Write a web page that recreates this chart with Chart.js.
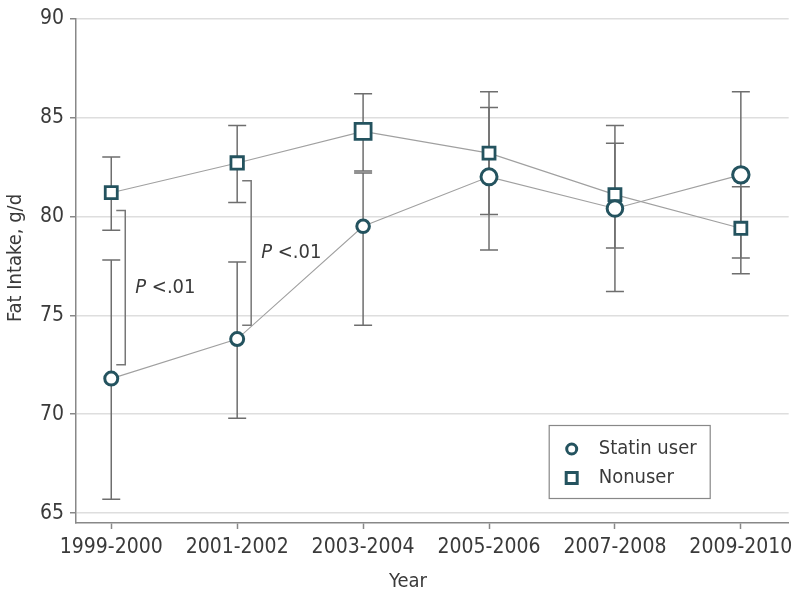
<!DOCTYPE html>
<html>
<head>
<meta charset="utf-8">
<script src="https://cdn.jsdelivr.net/npm/chart.js@4.4.1/dist/chart.umd.min.js"></script>
<style>
  html, body { margin: 0; padding: 0; background: #fff; }
</style>
</head>
<body>
<canvas id="c" width="800" height="598"></canvas>
<script>
const years = ["1999-2000", "2001-2002", "2003-2004", "2005-2006", "2007-2008", "2009-2010"];
const yTicks = [65, 70, 75, 80, 85, 90];

// means and error bar ends (g/d)
const statin = [71.8, 73.8, 79.5, 82.0, 80.4, 82.1];
const statinLo = [65.7, 69.8, 74.5, 78.3, 76.2, 77.9];
const statinHi = [77.8, 77.7, 82.2, 85.5, 84.6, 86.3];
const nonuser = [81.2, 82.7, 84.3, 83.2, 81.1, 79.4];
const nonuserLo = [79.3, 80.7, 82.3, 80.1, 78.4, 77.1];
const nonuserHi = [83.0, 84.6, 86.2, 86.3, 83.7, 81.5];

// P-value brackets: category index, from, to
const pBrackets = [
    { at: 0, from: 72.5, to: 80.3, label: "<.01" },
    { at: 1, from: 74.5, to: 81.8, label: "<.01" },
];

const FONT = "'Liberation Sans Narrow', 'DejaVu Sans Condensed', 'Liberation Sans', sans-serif";
const teal = "#24535f";
const textCol = "#3a3a3a";

const errorBars = {
    id: "errorBars",
    beforeDatasetsDraw(chart) {
        const { ctx, scales: { x, y } } = chart;
        ctx.save();
        ctx.strokeStyle = "#6e6e6e";
        ctx.lineWidth = 1.5;
        const draw = (lo, hi) => {
            lo.forEach((v, i) => {
                const px = x.getPixelForValue(i);
                const y1 = y.getPixelForValue(v);
                const y2 = y.getPixelForValue(hi[i]);
                ctx.beginPath();
                ctx.moveTo(px, y1);
                ctx.lineTo(px, y2);
                ctx.moveTo(px - 9, y1);
                ctx.lineTo(px + 9, y1);
                ctx.moveTo(px - 9, y2);
                ctx.lineTo(px + 9, y2);
                ctx.stroke();
            });
        };
        draw(statinLo, statinHi);
        draw(nonuserLo, nonuserHi);

        // brackets with P values
        ctx.strokeStyle = "#777";
        pBrackets.forEach((b) => {
            const bx = x.getPixelForValue(b.at) + 14;
            const yTop = y.getPixelForValue(b.to);
            const yBot = y.getPixelForValue(b.from);
            ctx.beginPath();
            ctx.moveTo(bx - 9, yTop);
            ctx.lineTo(bx, yTop);
            ctx.lineTo(bx, yBot);
            ctx.lineTo(bx - 9, yBot);
            ctx.stroke();
            const ym = (yTop + yBot) / 2;
            ctx.fillStyle = textCol;
            ctx.textBaseline = "middle";
            ctx.textAlign = "left";
            ctx.font = "italic 20px " + FONT;
            ctx.fillText("P", bx + 10, ym);
            const w = ctx.measureText("P ").width;
            ctx.font = "20px " + FONT;
            ctx.fillText(b.label, bx + 10 + w, ym);
        });
        ctx.restore();
    },
    afterDraw(chart) {
        const { ctx, chartArea: ca } = chart;
        ctx.save();
        // legend
        const lx = ca.right - 240, ly = ca.bottom - 98;
        ctx.strokeStyle = "#888";
        ctx.lineWidth = 1.2;
        ctx.strokeRect(lx + 0.5, ly + 0.5, 161, 73);
        ctx.strokeStyle = teal;
        ctx.lineWidth = 3;
        ctx.fillStyle = "#fff";
        ctx.beginPath();
        ctx.arc(lx + 23, ly + 24, 5, 0, Math.PI * 2);
        ctx.fill();
        ctx.stroke();
        ctx.fillRect(lx + 17.5, ly + 47.5, 11, 11);
        ctx.strokeRect(lx + 17.5, ly + 47.5, 11, 11);
        ctx.fillStyle = textCol;
        ctx.font = "20px " + FONT;
        ctx.textBaseline = "middle";
        ctx.textAlign = "left";
        ctx.fillText("Statin user", lx + 50, ly + 24);
        ctx.fillText("Nonuser", lx + 50, ly + 53);

        // axis titles
        ctx.textAlign = "center";
        ctx.fillText("Year", 408, 582);
        ctx.translate(16, 258);
        ctx.rotate(-Math.PI / 2);
        ctx.fillText("Fat Intake, g/d", 0, 0);
        ctx.restore();
    },
};

const pts = (arr) => arr.map((v, i) => ({ x: i, y: v }));

new Chart(document.getElementById("c"), {
    type: "line",
    data: {
        datasets: [
            {
                label: "Statin user",
                data: pts(statin),
                borderColor: "#a0a0a0",
                borderWidth: 1.1,
                pointStyle: "circle",
                pointRadius: [6.5, 6.5, 6.3, 8, 7.8, 8.2],
                pointBorderColor: teal,
                pointBorderWidth: 3,
                pointBackgroundColor: "#fff",
            },
            {
                label: "Nonuser",
                data: pts(nonuser),
                borderColor: "#a0a0a0",
                borderWidth: 1.1,
                pointStyle: "rect",
                pointRadius: [8.5, 8.8, 11.3, 8.5, 8.5, 8.5],
                pointBorderColor: teal,
                pointBorderWidth: 2.8,
                pointBackgroundColor: "#fff",
            },
        ],
    },
    options: {
        responsive: false,
        animation: false,
        layout: { padding: { top: 15, right: 10, left: 0, bottom: 0 } },
        plugins: {
            legend: { display: false },
            tooltip: { enabled: false },
        },
        scales: {
            x: {
                type: "linear",
                min: -0.28,
                max: 5.38,
                afterBuildTicks: (s) => { s.ticks = years.map((_, i) => ({ value: i })); },
                afterFit: (s) => { s.height = 75; },
                ticks: {
                    callback: (v) => years[v],
                    color: textCol,
                    font: { family: FONT, size: 21 },
                    padding: 6,
                    maxRotation: 0,
                    autoSkip: false,
                },
                grid: {
                    drawOnChartArea: false,
                    tickLength: 6,
                    tickColor: "#888",
                    tickWidth: 1.5,
                },
                border: { color: "#888", width: 1.5 },
            },
            y: {
                min: 64.5,
                max: 90,
                afterBuildTicks: (s) => { s.ticks = yTicks.map((v) => ({ value: v })); },
                afterFit: (s) => { s.width = 76; },
                ticks: {
                    color: textCol,
                    font: { family: FONT, size: 21 },
                    padding: 6,
                },
                grid: {
                    color: "#dedede",
                    lineWidth: 1.5,
                    tickLength: 6,
                    tickColor: "#888",
                },
                border: { color: "#888", width: 1.5 },
            },
        },
    },
    plugins: [errorBars],
});
</script>
</body>
</html>
